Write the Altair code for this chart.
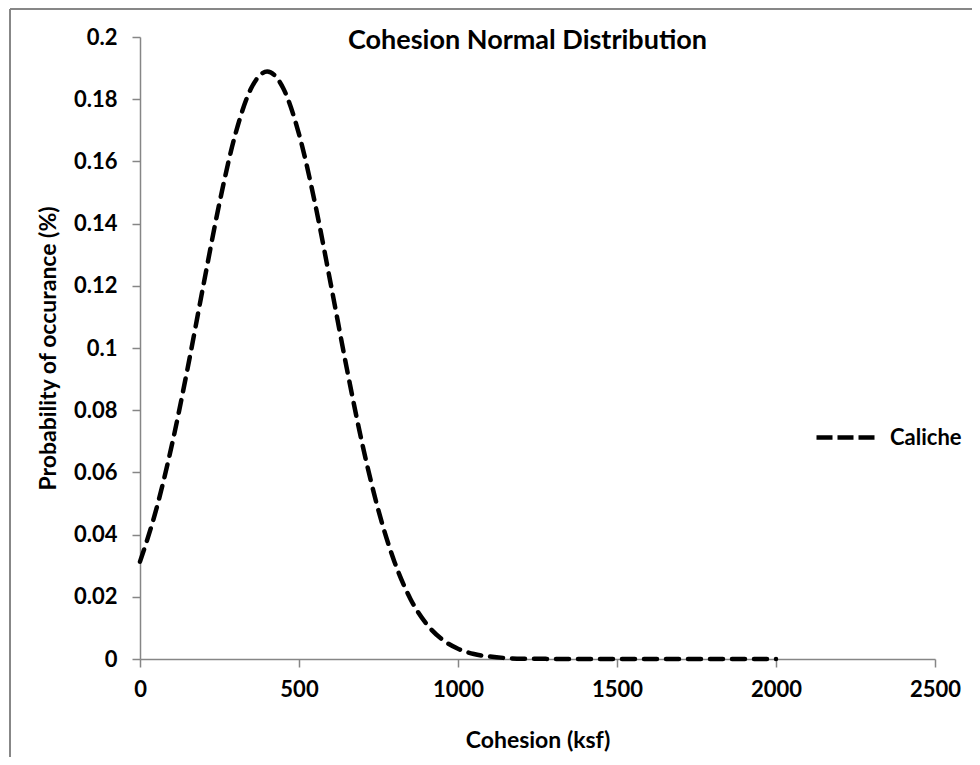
import altair as alt
import pandas as pd

# Values
cohesion = [0, 50, 100, 150, 200, 250, 300, 350, 400, 450, 500, 550, 600, 650,
            700, 750, 800, 850, 900, 950, 1000, 1050, 1100, 1150, 1200, 1250,
            1300, 1350, 1400, 1450, 1500, 1550, 1600, 1650, 1700, 1750, 1800,
            1850, 1900, 1950, 2000]
probability = [0.0313, 0.0477, 0.0687, 0.0936, 0.1205, 0.1467, 0.1688, 0.1836,
               0.1889, 0.1836, 0.1688, 0.1467, 0.1205, 0.0936, 0.0687, 0.0477,
               0.0313, 0.0194, 0.0114, 0.0063, 0.0033, 0.0016, 0.0008, 0.0003,
               0.0001, 0.0001, 0.0, 0.0, 0.0, 0.0, 0.0, 0.0, 0.0, 0.0, 0.0, 0.0,
               0.0, 0.0, 0.0, 0.0, 0.0]
series_name = "Caliche"
x_ticks = [0, 500, 1000, 1500, 2000, 2500]
y_ticks = [0, 0.02, 0.04, 0.06, 0.08, 0.1, 0.12, 0.14, 0.16, 0.18, 0.2]

df = pd.DataFrame({"Cohesion": cohesion, "Probability": probability,
                   "Series": [series_name] * len(cohesion)})

FONT = "Lato"
AXIS_GRAY = "#868686"
W, H = 795, 622

line = alt.Chart(df).mark_line(
    strokeWidth=4.5, strokeDash=[13, 9], strokeCap="round", interpolate="monotone"
).encode(
    x=alt.X("Cohesion:Q",
            scale=alt.Scale(domain=[0, 2500], nice=False, zero=False),
            axis=alt.Axis(values=x_ticks, format="d", title="Cohesion (ksf)",
                          titleY=88, titleBaseline="alphabetic",
                          labelPadding=12, labelFlush=False)),
    y=alt.Y("Probability:Q",
            scale=alt.Scale(domain=[0, 0.2], nice=False),
            axis=alt.Axis(values=y_ticks, format=".2~f",
                          title="Probability of occurance (%)",
                          titleX=-92, titleY=311, titleAngle=270,
                          titleAlign="center", titleBaseline="middle",
                          labelPadding=15, labelFlush=False)),
    color=alt.Color("Series:N", scale=alt.Scale(range=["#000000"]),
                    legend=alt.Legend(title=None, orient="none",
                                      legendX=674, legendY=369,
                                      symbolType="stroke", symbolSize=3364,
                                      symbolStrokeWidth=4.5,
                                      symbolDash=[16, 5],
                                      labelOffset=13, padding=0,
                                      labelFont=FONT, labelFontSize=22,
                                      labelFontWeight="bold",
                                      labelColor="#000000")),
)

border_df = pd.DataFrame({"k": [0]})
left_border = alt.Chart(border_df).mark_rule(color="#878787", strokeWidth=2).encode(
    x=alt.value(-130), y=alt.value(-28), y2=alt.value(900))
top_border = alt.Chart(border_df).mark_rule(color="#878787", strokeWidth=2).encode(
    y=alt.value(-28), x=alt.value(-130), x2=alt.value(1100))

chart = alt.layer(line, left_border, top_border).properties(
    width=W, height=H,
    background="white",
    autosize=alt.AutoSizeParams(type="none"),
    padding={"left": 132, "top": 29, "right": 37, "bottom": 98},
    title=alt.TitleParams("Cohesion Normal Distribution", font=FONT, fontSize=27,
                          fontWeight="bold", color="#000000", frame="group",
                          anchor="middle", baseline="alphabetic", offset=0,
                          dy=68, dx=-10),
).configure_view(stroke=None).configure_axis(
    grid=False, domainColor=AXIS_GRAY, domainWidth=1.5, tickColor=AXIS_GRAY,
    tickWidth=1.5, tickSize=8, labelFont=FONT, labelFontSize=22,
    labelFontWeight="bold", labelColor="#000000", titleFont=FONT,
    titleFontSize=23, titleFontWeight="bold", titleColor="#000000",
)

chart.save("out.html", embed_options={"renderer": "svg", "actions": False})
